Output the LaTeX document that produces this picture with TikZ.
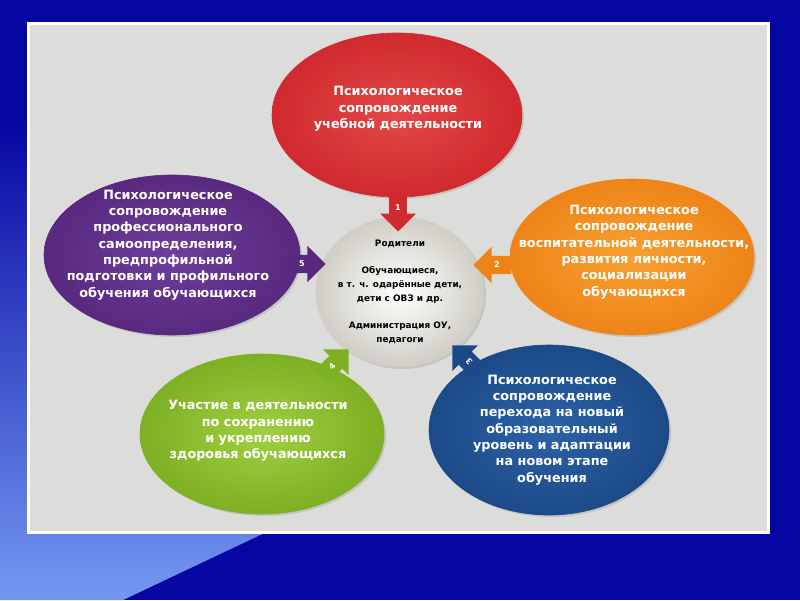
\documentclass[tikz,border=0pt]{standalone}
\usepackage{fontspec}
\setmainfont{DejaVu Sans}
\usetikzlibrary{shapes.geometric,shapes.arrows,shadows}
\definecolor{bgdark}{HTML}{0606A2}
\definecolor{bglight}{HTML}{7498F2}
\definecolor{panelfill}{HTML}{DCDCDA}
\definecolor{cred}{HTML}{D02A2E}
\definecolor{credl}{HTML}{E24846}
\definecolor{cpurple}{HTML}{58297E}
\definecolor{cpurplel}{HTML}{6E3E9C}
\definecolor{corange}{HTML}{EE8418}
\definecolor{corangel}{HTML}{F8A032}
\definecolor{cgreen}{HTML}{7EB024}
\definecolor{cgreenl}{HTML}{A0CE40}
\definecolor{cblue}{HTML}{1C4A88}
\definecolor{cbluel}{HTML}{2C62A6}
\definecolor{hubedge}{HTML}{CFCDC4}
\tikzset{
  bubble/.style={ellipse, inner sep=0pt, draw=#1, line width=0.6pt, drop shadow={opacity=0.25, shadow xshift=2pt, shadow yshift=-2pt}},
  btext/.style={align=center, text=white, inner sep=0pt, font=\bfseries\fontsize{12.8}{16.3}\selectfont},
  hubtext/.style={align=center, text=black, inner sep=0pt, font=\bfseries\fontsize{8.9}{14.3}\selectfont},
  numarrow/.style={single arrow, single arrow head extend=9pt, minimum height=38pt, inner sep=6pt, text=white, font=\bfseries\fontsize{8}{8}\selectfont}
}
\begin{document}
\begin{tikzpicture}[x=1pt,y=-1pt]
\useasboundingbox (0,0) rectangle (800,600);
% background
\fill[bgdark] (0,0) rectangle (800,600);
\shade[top color=bgdark, bottom color=bglight] (0,120) -- (0,600) -- (123,600) -- (520,412) -- (300,120) -- cycle;
% panel
\filldraw[draw=white, line width=3pt, fill=panelfill] (28,23) rectangle (768,532);
% ellipses
\node[bubble=cred, inner color=credl, outer color=cred, minimum width=250pt, minimum height=164pt] (red) at (397,115) {};
\node[bubble=cpurple, inner color=cpurplel, outer color=cpurple, minimum width=256pt, minimum height=160pt] (purple) at (172,255) {};
\node[bubble=corange, inner color=corangel, outer color=corange, minimum width=244pt, minimum height=156pt] (orange) at (632,257) {};
\node[bubble=cgreen, inner color=cgreenl, outer color=cgreen, minimum width=244pt, minimum height=160pt] (green) at (262,434) {};
\node[bubble=cblue, inner color=cbluel, outer color=cblue, minimum width=240pt, minimum height=170pt] (blue) at (549,430) {};
\node[bubble=hubedge, inner color=white, outer color=hubedge, minimum width=168pt, minimum height=150pt] (hub) at (400,292) {};
% arrows
\node[numarrow, fill=cred, shape border rotate=270] (a1) at (398,208) {1};
\node[numarrow, fill=corange, shape border rotate=180] (a2) at (497,265) {2};
\node[numarrow, fill=cblue, rotate=135] (a3) at (469,362) {3};
\node[numarrow, fill=cgreen, rotate=45] (a4) at (332,366) {4};
\node[numarrow, fill=cpurple, shape border rotate=0] (a5) at (302,264) {5};
% texts
\node[btext] (t1) at (398,109) {Психологическое\\сопровождение\\учебной деятельности};
\node[btext] (t5) at (168,245) {Психологическое\\сопровождение\\профессионального\\самоопределения,\\предпрофильной\\подготовки и профильного\\обучения обучающихся};
\node[btext] (t2) at (634,252) {Психологическое\\сопровождение\\воспитательной деятельности,\\развития личности,\\социализации\\обучающихся};
\node[btext] (t4) at (258,431) {Участие в деятельности\\по сохранению\\и укреплению\\здоровья обучающихся};
\node[btext] (t3) at (552,430) {Психологическое\\сопровождение\\перехода на новый\\образовательный\\уровень и адаптации\\на новом этапе\\обучения};
\node[hubtext] (th) at (400,292) {Родители\\[12pt]Обучающиеся,\\в т. ч. одарённые дети,\\дети с ОВЗ и др.\\[12pt]Администрация ОУ,\\педагоги};
\end{tikzpicture}
\end{document}
